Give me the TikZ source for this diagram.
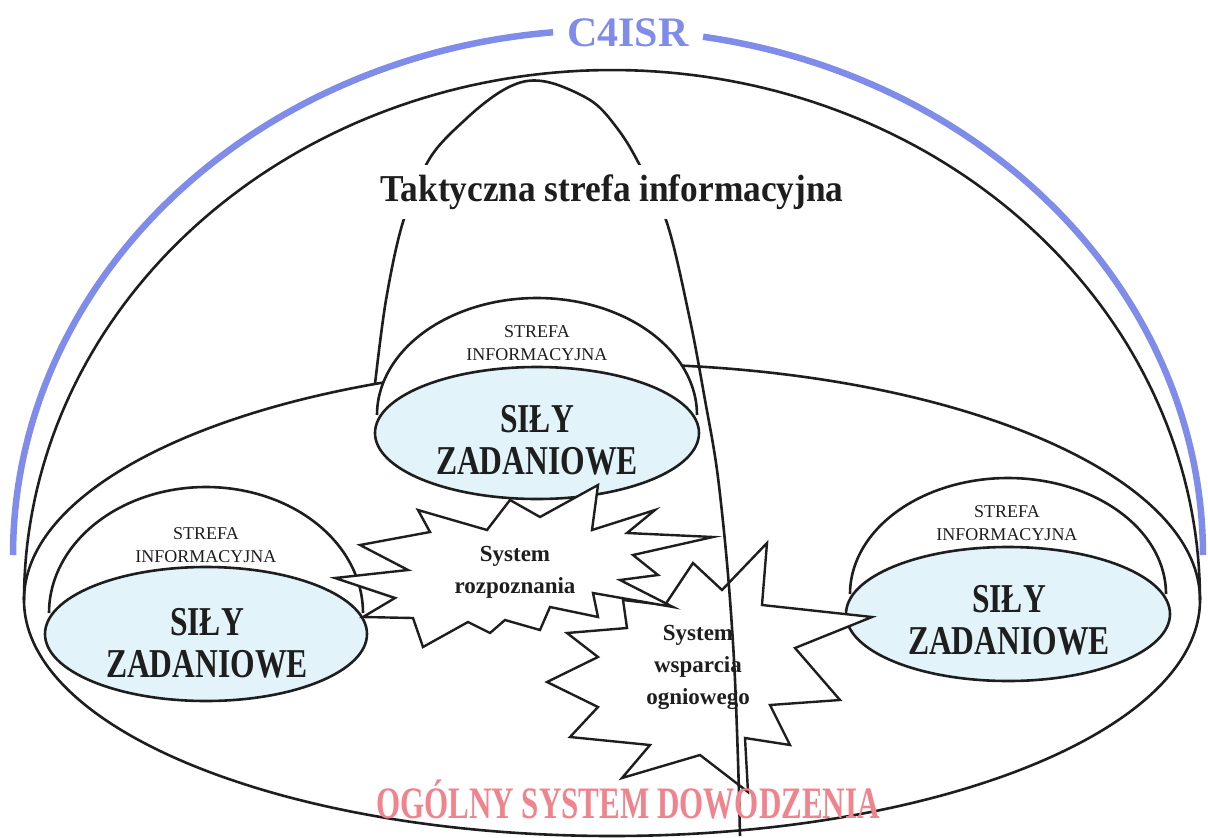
\documentclass[tikz,border=0pt]{standalone}
\usepackage{fontspec}
\setmainfont{Liberation Serif}
\newfontfamily\condfont[FakeStretch=0.77]{Liberation Serif}
\newfontfamily\bannerfont[FakeStretch=0.69]{Liberation Serif}
\newfontfamily\titlefont[FakeStretch=0.93]{Liberation Serif}
\definecolor{c4blue}{RGB}{128,140,234}
\definecolor{forcefill}{RGB}{226,244,250}
\definecolor{cmdred}{RGB}{240,132,142}
\definecolor{inkgrey}{RGB}{30,30,30}

\begin{document}
\begin{tikzpicture}[x=1pt, y=-1pt,
  outline/.style={draw=inkgrey, line width=2.6pt},
  c4arc/.style={draw=c4blue, line width=6.5pt},
  forcebase/.style={outline, fill=forcefill},
  burst/.style={outline, line width=2.4pt, fill=white, line join=miter, miter limit=20},
  zonelabel/.style={align=center, text=inkgrey, font=\fontsize{18}{23}\selectfont},
  forcelabel/.style={align=center, text=inkgrey, font=\condfont\bfseries\fontsize{41}{42}\selectfont},
  burstlabel/.style={align=center, text=inkgrey, font=\bfseries\fontsize{23}{32}\selectfont}]

\useasboundingbox (0,0) rectangle (1208,838);

% outer C4ISR arc, broken for its label
\draw[c4arc] plot[domain=180:95.3, samples=90] ({608+595*cos(\x)},{555-525*sin(\x)});
\draw[c4arc] plot[domain=80.8:0, samples=90] ({608+595*cos(\x)},{555-525*sin(\x)});
\node[text=c4blue, font=\bfseries\fontsize{42}{42}\selectfont] (c4isr) at (628,33) {C4ISR};

% general command system: dome over a flat base
\draw[outline] plot[domain=180:0, samples=150] ({612+588*cos(\x)},{600-530*sin(\x)});
\draw[outline] (612,600) ellipse[x radius=588, y radius=236];

% task forces: small domes over tinted bases
\fill[white] plot[domain=180:0, samples=90] ({537+160*cos(\x)},{415-117*sin(\x)}) -- cycle;
\draw[outline] plot[domain=180:0, samples=90] ({537+160*cos(\x)},{415-117*sin(\x)});
\draw[forcebase] (537,433) ellipse[x radius=162, y radius=66];

\fill[white] plot[domain=180:0, samples=90] ({206+157*cos(\x)},{613-126*sin(\x)}) -- cycle;
\draw[outline] plot[domain=180:0, samples=90] ({206+157*cos(\x)},{613-126*sin(\x)});
\draw[forcebase] (206,634) ellipse[x radius=161, y radius=67];

\fill[white] plot[domain=180:0, samples=90] ({1008+158*cos(\x)},{594-116*sin(\x)}) -- cycle;
\draw[outline] plot[domain=180:0, samples=90] ({1008+158*cos(\x)},{594-116*sin(\x)});
\draw[forcebase] (1008,614) ellipse[x radius=162, y radius=67];

% fire support burst
\draw[burst] (693,563) -- (722,590) -- (767,543) -- (762,605) -- (872,617) -- (795,648)
  -- (840,700) -- (770,705) -- (790,745) -- (745,738) -- (748,792) -- (700,755)
  -- (622,778) -- (650,745) -- (570,737) -- (598,707) -- (547,682) -- (598,657)
  -- (567,633) -- (627,628) -- (623,600) -- (665,605) -- cycle;

% reconnaissance burst
\draw[burst] (418,510) -- (487,530) -- (510,500) -- (540,517) -- (598,485) -- (592,530)
  -- (655,510) -- (627,533) -- (713,537) -- (633,555) -- (658,575) -- (620,580)
  -- (673,607) -- (593,593) -- (598,617) -- (550,607) -- (540,630) -- (505,620)
  -- (490,633) -- (468,622) -- (423,647) -- (413,618) -- (363,617) -- (395,598)
  -- (335,578) -- (408,570) -- (360,545) -- (430,532) -- cycle;

% tactical information zone
\draw[outline] plot[smooth, tension=0.55] coordinates {(375,384) (386,300) (403,222)
  (430,158) (467,118) (500,92) (527,81) (555,84) (593,102) (617,128) (637,160)
  (667,223) (690,320) (705,400) (717,470) (727,563) (734,660) (738,760) (740,836)};
\node[fill=white, inner xsep=4pt, inner ysep=10pt, text=inkgrey,
  font=\titlefont\bfseries\fontsize{38}{38}\selectfont] (tactical) at (612,192)
  {Taktyczna strefa informacyjna};

% labels
\node[zonelabel] (zoneC) at (537,343) {STREFA\\INFORMACYJNA};
\node[zonelabel] (zoneL) at (206,545) {STREFA\\INFORMACYJNA};
\node[zonelabel] (zoneR) at (1007,523) {STREFA\\INFORMACYJNA};

\node[forcelabel] (forceC) at (537,440) {SIŁY\\ZADANIOWE};
\node[forcelabel] (forceL) at (207,643) {SIŁY\\ZADANIOWE};
\node[forcelabel] (forceR) at (1009,620) {SIŁY\\ZADANIOWE};

\node[burstlabel] (recon) at (515,572) {System\\rozpoznania};
\node[burstlabel] (fire) at (698,667) {System\\wsparcia\\ogniowego};

\node[text=cmdred, font=\bannerfont\bfseries\fontsize{45}{45}\selectfont] (command) at (628,800)
  {OGÓLNY SYSTEM DOWODZENIA};
\end{tikzpicture}
\end{document}
